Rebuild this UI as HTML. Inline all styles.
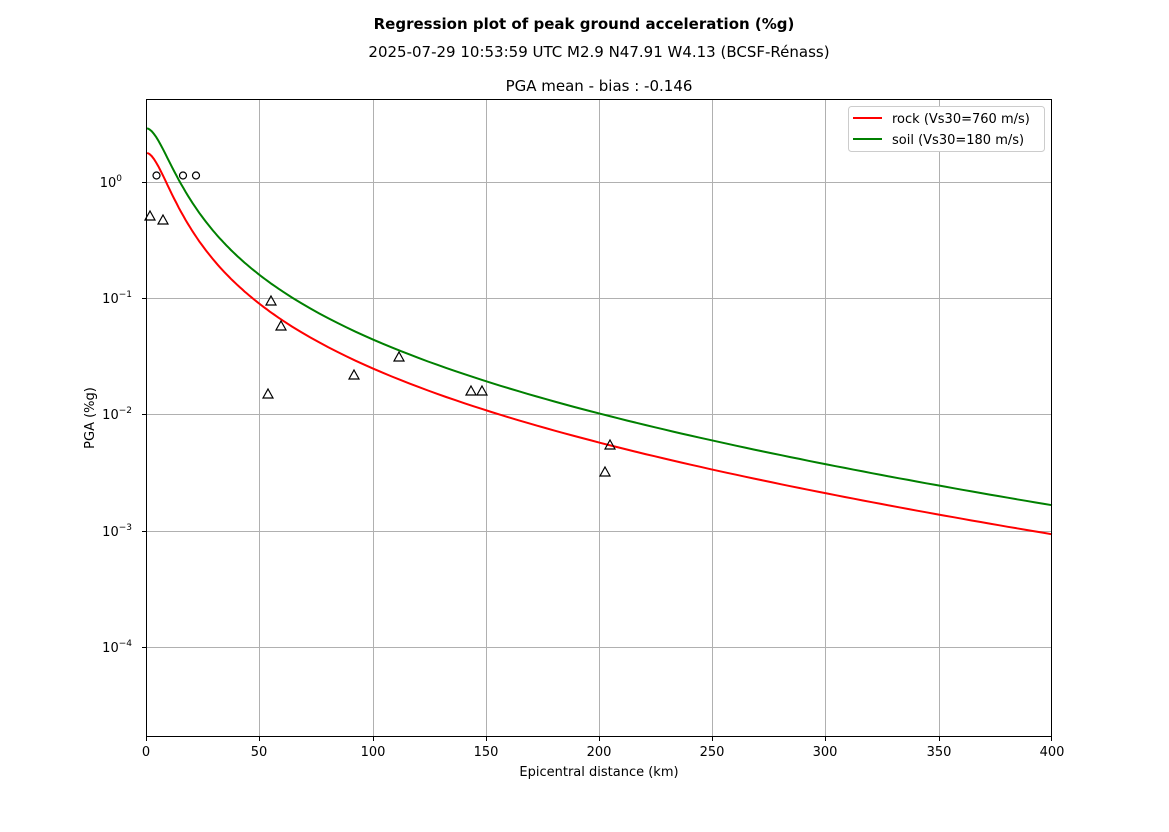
<!DOCTYPE html>
<html><head><meta charset="utf-8"><style>
body{margin:0;background:#fff;}
text{font-family:"DejaVu Sans","Liberation Sans",sans-serif;fill:#000;}
</style></head><body>
<svg width="1169" height="827" xmlns="http://www.w3.org/2000/svg">
<rect width="1169" height="827" fill="#fff"/>
<text x="584" y="29" text-anchor="middle" font-size="15" font-weight="bold">Regression plot of peak ground acceleration (%g)</text>
<text x="599" y="57" text-anchor="middle" font-size="15">2025-07-29 10:53:59 UTC M2.9 N47.91 W4.13 (BCSF-Rénass)</text>
<text x="599" y="91" text-anchor="middle" font-size="15">PGA mean - bias : -0.146</text>
<g stroke="#b0b0b0" stroke-width="1">
<line x1="259.5" y1="99" x2="259.5" y2="737"/><line x1="373.5" y1="99" x2="373.5" y2="737"/>
<line x1="486.5" y1="99" x2="486.5" y2="737"/><line x1="599.5" y1="99" x2="599.5" y2="737"/>
<line x1="712.5" y1="99" x2="712.5" y2="737"/><line x1="825.5" y1="99" x2="825.5" y2="737"/>
<line x1="939.5" y1="99" x2="939.5" y2="737"/>
<line x1="146" y1="182.5" x2="1052" y2="182.5"/><line x1="146" y1="298.5" x2="1052" y2="298.5"/>
<line x1="146" y1="414.5" x2="1052" y2="414.5"/><line x1="146" y1="531.5" x2="1052" y2="531.5"/>
<line x1="146" y1="647.5" x2="1052" y2="647.5"/>
</g>
<polyline id="gc" fill="none" stroke="#008000" stroke-width="2" points=""/>
<polyline id="rc" fill="none" stroke="#ff0000" stroke-width="2" points=""/>
<g fill="none" stroke="#000" stroke-width="1.2">
<circle cx="156.5" cy="175.5" r="3.5"/><circle cx="183" cy="175.5" r="3.5"/><circle cx="196" cy="175.5" r="3.5"/>
<path d="M150,211 l5,9 h-10z M163,215 l5,9 h-10z M271,296 l5,9 h-10z M281,321 l5,9 h-10z M268,389 l5,9 h-10z M354,370 l5,9 h-10z M399,352 l5,9 h-10z M471,386 l5,9 h-10z M482,386 l5,9 h-10z M610,440 l5,9 h-10z M605,467 l5,9 h-10z"/>
</g>
<rect x="146.5" y="99.5" width="905" height="637" fill="none" stroke="#000" stroke-width="1"/>
<g stroke="#000" stroke-width="1">
<line x1="146.5" y1="737" x2="146.5" y2="741"/><line x1="259.5" y1="737" x2="259.5" y2="741"/>
<line x1="373.5" y1="737" x2="373.5" y2="741"/><line x1="486.5" y1="737" x2="486.5" y2="741"/>
<line x1="599.5" y1="737" x2="599.5" y2="741"/><line x1="712.5" y1="737" x2="712.5" y2="741"/>
<line x1="825.5" y1="737" x2="825.5" y2="741"/><line x1="939.5" y1="737" x2="939.5" y2="741"/>
<line x1="1051.5" y1="737" x2="1051.5" y2="741"/>
<line x1="142" y1="182.5" x2="146" y2="182.5"/><line x1="142" y1="298.5" x2="146" y2="298.5"/>
<line x1="142" y1="414.5" x2="146" y2="414.5"/><line x1="142" y1="531.5" x2="146" y2="531.5"/>
<line x1="142" y1="647.5" x2="146" y2="647.5"/>
</g>
<g stroke="#000" stroke-width="0.8" id="minor"></g>
<g font-size="13" text-anchor="middle">
<text x="146" y="756">0</text><text x="259" y="756">50</text><text x="373" y="756">100</text>
<text x="486" y="756">150</text><text x="599" y="756">200</text><text x="712" y="756">250</text>
<text x="825" y="756">300</text><text x="939" y="756">350</text><text x="1052" y="756">400</text>
</g>
<text x="599" y="776" text-anchor="middle" font-size="13">Epicentral distance (km)</text>
<g font-size="13" text-anchor="end">
<text x="122" y="187">10<tspan font-size="9" dy="-6">0</tspan></text>
<text x="132" y="303">10<tspan font-size="9" dy="-6">−1</tspan></text>
<text x="132" y="419">10<tspan font-size="9" dy="-6">−2</tspan></text>
<text x="132" y="536">10<tspan font-size="9" dy="-6">−3</tspan></text>
<text x="132" y="652">10<tspan font-size="9" dy="-6">−4</tspan></text>
</g>
<text transform="translate(94,418) rotate(-90)" text-anchor="middle" font-size="13">PGA (%g)</text>
<rect x="848.5" y="106.5" width="196" height="45" rx="3" fill="#fff" stroke="#ccc"/>
<line x1="853" y1="118" x2="882" y2="118" stroke="#ff0000" stroke-width="2"/>
<line x1="853" y1="139" x2="882" y2="139" stroke="#008000" stroke-width="2"/>
<text x="892" y="123" font-size="13">rock (Vs30=760 m/s)</text>
<text x="892" y="144" font-size="13">soil (Vs30=180 m/s)</text>
<script>
var g=document.getElementById('minor'),s='';
for(var d=-5;d<1;d++)for(var k=2;k<10;k++){var y=182-116.25*(d+Math.log10(k));if(y>99&&y<737)s+='<line x1="144" x2="146" y1="'+(Math.round(y)+0.5)+'" y2="'+(Math.round(y)+0.5)+'"/>';}
g.innerHTML=s;
function pt(r,off,h){var R=Math.sqrt(r*r+h*h);var L=1.806+off-1.628*Math.log10(R)-0.0015*r;return (146+r*2.265).toFixed(1)+','+(182-116.25*L).toFixed(1);}
function curve(id,off,h){var p=[];for(var r=0.5;r<400;r+=(r<60?1:4)){p.push(pt(r,off,h));}p.push(pt(400,off,h));document.getElementById(id).setAttribute('points',p.join(' '));}
curve('rc',0,9);curve('gc',0.25,9.5);
</script>
</svg>
</body></html>
